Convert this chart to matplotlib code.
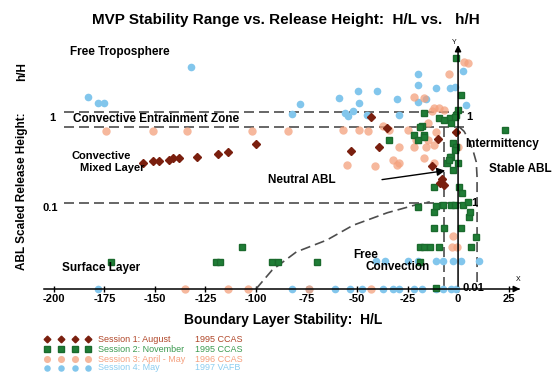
import matplotlib
matplotlib.use("Agg")
import matplotlib.pyplot as plt
from matplotlib.lines import Line2D

plt.rcParams["font.family"] = ["Liberation Sans", "DejaVu Sans"]
plt.rcParams["axes.unicode_minus"] = False

# Session 1: August 1995 CCAS  (H/L, h/H)
s1_hl = [-156, -151, -148, -143, -141, -138, -129, -119, -114, -100,
         -53, -43, -35, -39, -13, -9, -8, -7, -1, -10]
s1_hh = [0.29, 0.31, 0.31, 0.32, 0.33, 0.33, 0.34, 0.37, 0.39, 0.49,
         0.40, 1.0, 0.75, 0.45, 0.27, 0.17, 0.19, 0.16, 0.67, 0.55]

# Session 2: November 1995 CCAS
s2_hl = [-1, 1.5, 0, -1, -4, -1.5, -9.4, -7, -3.5, 23, -18, -22, -17, -34,
         -2.5, -3.5, -1, -2.5, 0, 0.5, -17, -19, -20, -17, -4, -5.4, -12, 2,
         -1.5, -4.5,
         -20, -12, -7.4, -3.5, 2.5, 5.4, 5, -11, -1.5, 6,
         -12, -7, 1.5, 9, -19, -17, -14, -9.4, 6.4,
         -70, -19, -11, -172, -120, -118, -107, -92, -89]
s2_hh = [4.85, 1.8, 1.21, 1.05, 0.97, 1.0, 0.97, 0.92, 0.85, 0.71, 0.79, 0.62, 0.62, 0.54,
         0.50, 0.34, 0.45, 0.24, 0.29, 0.153, 1.11, 0.765, 0.54, 0.585, 0.34, 0.29, 0.153, 0.13,
         0.41, 0.316,
         0.09, 0.079, 0.095, 0.095, 0.095, 0.069, 0.103, 0.092, 0.095, 0.079,
         0.051, 0.051, 0.051, 0.040, 0.031, 0.031, 0.031, 0.031, 0.031,
         0.0206, 0.0206, 0.0103, 0.0206, 0.0206, 0.0206, 0.031, 0.0206, 0.0206]

# Session 3: April - May 1996 CCAS
s3_hl = [-174, -151, -134, -102, -84, -57, -49, -44.5, -37, -34, -25,
         -22, -17, -13, -29, -22, -16, -15, -32, -55, -41, -30, -29,
         -4.5, 3, 5, -12, -9.4, -7, -15, -19, -11, -21, -12, -17, -12, 0,
         -2.5, -3, -0.5,
         -135, -114, -104, -74, -43]
s3_hh = [0.69, 0.69, 0.69, 0.69, 0.69, 0.71, 0.71, 0.69, 0.79, 0.71, 0.71,
         1.7, 1.66, 1.17, 0.45, 0.45, 0.45, 0.54, 0.32, 0.28, 0.27, 0.28, 0.29,
         3.16, 4.36, 4.25, 1.27, 1.27, 1.21, 0.85, 0.765, 0.67, 0.54, 0.47, 0.335, 0.29, 0.45,
         0.041, 0.031, 0.031,
         0.01, 0.01, 0.01, 0.01, 0.01]

# Session 4: May 1997 VAFB
s4_hl = [-132, -183, -178, -175, -78, -59, -49.5, -40, -49, -54.5, -52, -56, -45,
         -30, -29, -20, -20, -20, -16, -11, -4, -1.5, 2.5, 4, -82,
         -40.6, -36, -24.8, -20, -11, -7.4, -2.5, 1.5, 10.4,
         -178, -82, -74, -61, -53.5, -47.5, -37, -32, -29, -22, -18, -11, -7.4, -3.5, -1]
s4_hh = [3.81, 1.71, 1.45, 1.45, 1.42, 1.66, 2.01, 2.01, 1.45, 1.03, 1.17, 1.1, 1.05,
         1.62, 1.05, 3.16, 2.35, 1.49, 1.62, 2.17, 2.17, 2.23, 3.43, 1.38, 1.08,
         0.0212, 0.0212, 0.0212, 0.0212, 0.0212, 0.0212, 0.0212, 0.0212, 0.0212,
         0.01, 0.01, 0.01, 0.01, 0.01, 0.01, 0.01, 0.01, 0.01, 0.01, 0.01, 0.01, 0.01, 0.01, 0.01]

# regime boundaries
ez_top, ez_bottom, surf_top = 1.14, 0.765, 0.1
free_conv_hl = [-100, -92, -80, -65, -52, -35, -21, -14]
free_conv_hh = [0.01, 0.0166, 0.027, 0.037, 0.055, 0.077, 0.095, 0.103]
stable_hl = [0.5, 3, 5.5, 7.5, 9, 9.4, 9.4]
stable_hh = [0.77, 0.68, 0.53, 0.40, 0.30, 0.20, 0.01]
neutral_hl = -7

xticks = [-200, -175, -150, -125, -100, -75, -50, -25, 0, 25]

W, H = 552, 379


def fx(px):
    return px / W


def fy(py):
    return 1 - py / H


fig = plt.figure(figsize=(5.52, 3.79), dpi=100)
ax = fig.add_axes([fx(40), fy(295), (530 - 40) / W, (295 - 38) / H])
ax.set_yscale("log")
ax.set_xlim(-206.9, 35.6)
ax.set_ylim(0.00851, 8.29)

for s in ["left", "top", "right"]:
    ax.spines[s].set_visible(False)
ax.spines["bottom"].set_position(("data", 0.01))
ax.spines["bottom"].set_bounds(-205, 30)
ax.spines["bottom"].set_linewidth(1.1)
ax.tick_params(axis="y", which="both", left=False, labelleft=False)
ax.set_xticks(xticks)
ax.set_xticklabels([str(t) for t in xticks])
ax.tick_params(axis="x", direction="inout", length=5, width=1, pad=1, labelsize=8)
for lbl in ax.get_xticklabels():
    lbl.set_fontweight("bold")

ax.annotate("", xy=(32, 0.01), xytext=(27, 0.01),
            arrowprops=dict(arrowstyle="-|>", color="black", lw=1.1, mutation_scale=9))
ax.annotate("", xy=(0, 7.4), xytext=(0, 0.01),
            arrowprops=dict(arrowstyle="-|>", color="black", lw=1.1, mutation_scale=9))

dash = dict(color="#4d4d4d", lw=1.2, dashes=(6, 3))
ax.plot([-195, 3], [ez_top, ez_top], **dash)
ax.plot([-195, 3], [ez_bottom, ez_bottom], **dash)
ax.plot([-195, 6], [surf_top, surf_top], **dash)
ax.plot(free_conv_hl, free_conv_hh, **dash)
ax.plot(stable_hl, stable_hh, **dash)
ax.plot([neutral_hl, neutral_hl], [ez_bottom, 0.01], **dash)

ax.annotate("", xy=(-5, 0.24), xytext=(-39, 0.185),
            arrowprops=dict(arrowstyle="-|>", color="black", lw=1, mutation_scale=12))

ms3 = dict(ls="none", marker="o", ms=6, color="#f4a07c", alpha=0.75, mec="none", clip_on=False)
ms4 = dict(ls="none", marker="o", ms=5.5, color="#82c6ec", mec="none", clip_on=False)
ms2 = dict(ls="none", marker="s", ms=4.8, color="#1f7d36", mec="#1a6a2d", clip_on=False)
ms1 = dict(ls="none", marker="D", ms=4, color="#7a1f0e", mec="#7a1f0e", clip_on=False)
ax.plot(s4_hl, s4_hh, **ms4)
ax.plot(s3_hl, s3_hh, **ms3)
ax.plot(s2_hl, s2_hh, **ms2)
ax.plot(s1_hl, s1_hh, **ms1)

# texts
bold = dict(fontweight="bold", va="center")
fig.text(fx(286), fy(20), "MVP Stability Range vs. Release Height:  H/L vs.   h/H",
         ha="center", fontsize=11, **bold)
fig.text(fx(283), fy(320), "Boundary Layer Stability:  H/L", ha="center", fontsize=10, **bold)
fig.text(fx(22), fy(191), "ABL Scaled Release Height:", rotation=90, ha="center", fontsize=8.5, **bold)
fig.text(fx(22), fy(72), "h/H", rotation=90, ha="center", fontsize=8.5, **bold)

fig.text(fx(52), fy(118), "1", ha="center", fontsize=8, **bold)
fig.text(fx(50), fy(208), "0.1", ha="center", fontsize=8, **bold)
fig.text(fx(469), fy(117), "1", ha="center", fontsize=8, **bold)
fig.text(fx(474), fy(203), "1", ha="center", fontsize=8, **bold)
fig.text(fx(473), fy(288), "0.01", ha="center", fontsize=8, **bold)
fig.text(fx(454), fy(44), "Y", ha="center", fontsize=5)
fig.text(fx(518), fy(281), "X", ha="center", fontsize=5)

fig.text(fx(70), fy(52), "Free Troposphere", fontsize=8.5, **bold)
fig.text(fx(73), fy(119), "Convective Entrainment Zone", fontsize=8.5, **bold)
fig.text(fx(101), fy(155.5), "Convective", ha="center", fontsize=8, **bold)
fig.text(fx(112), fy(168), "Mixed Layer", ha="center", fontsize=8, **bold)
fig.text(fx(268), fy(180), "Neutral ABL", fontsize=8.5, **bold)
fig.text(fx(465), fy(144), "Intermittency", fontsize=8.5, **bold)
fig.text(fx(489), fy(169), "Stable ABL", fontsize=8.5, **bold)
fig.text(fx(62), fy(268), "Surface Layer", fontsize=8.5, **bold)
fig.text(fx(353), fy(255), "Free", fontsize=8.5, **bold)
fig.text(fx(365), fy(267.5), "Convection", fontsize=8.5, **bold)

# legend
legend_rows = [
    (ms1, "Session 1: August", "1995 CCAS", "#b04628"),
    (ms2, "Session 2: November", "1995 CCAS", "#3c9a50"),
    (ms3, "Session 3: April - May", "1996 CCAS", "#f5a07e"),
    (ms4, "Session 4: May", "1997 VAFB", "#8ccdf0"),
]
row_y = [339, 349, 359, 368]
for (style, name, year, tcol), py in zip(legend_rows, row_y):
    st = dict(style)
    st.pop("clip_on", None)
    st["ms"] = st["ms"] * 0.85
    for mx in [47, 61, 75, 88]:
        fig.add_artist(Line2D([fx(mx)], [fy(py)], transform=fig.transFigure, **st))
    fig.text(fx(98), fy(py), name, color=tcol, fontsize=6.5, va="center")
    fig.text(fx(195), fy(py), year, color=tcol, fontsize=6.5, va="center")

fig.savefig("out.png", dpi=100)
